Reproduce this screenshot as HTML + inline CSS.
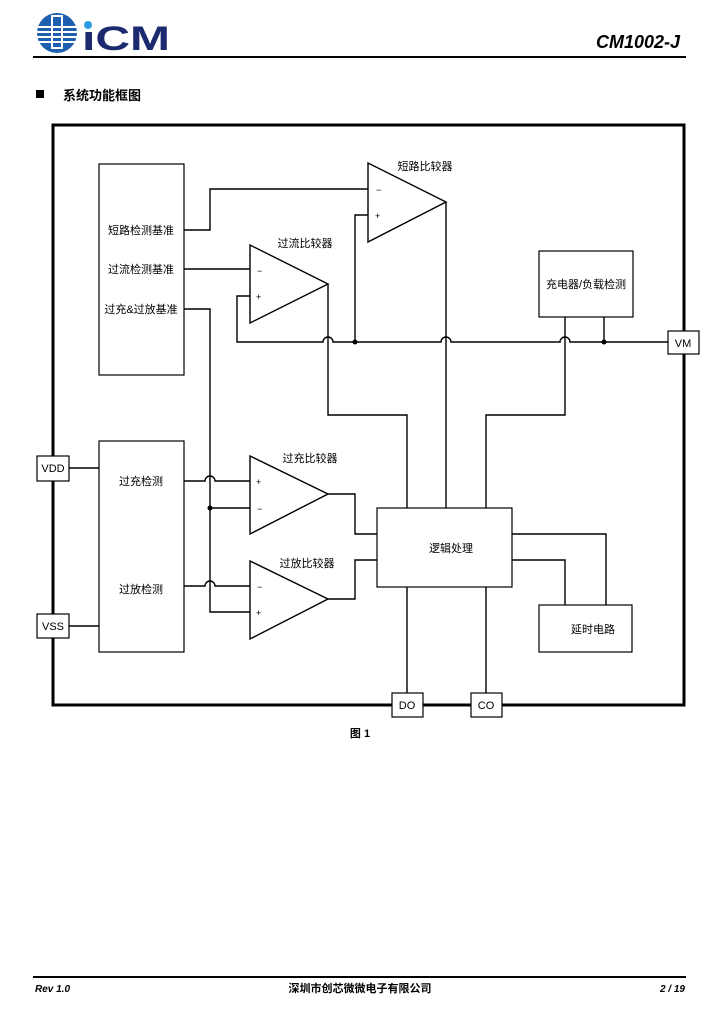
<!DOCTYPE html>
<html><head><meta charset="utf-8">
<style>
html,body{margin:0;padding:0;background:#fff;}
body{width:725px;height:1011px;position:relative;overflow:hidden;font-family:"Liberation Sans","Noto Sans CJK SC",sans-serif;}
svg{position:absolute;left:0;top:0;}
</style></head><body>
<svg width="725" height="1011" viewBox="0 0 725 1011" xmlns="http://www.w3.org/2000/svg" font-family="'Liberation Sans','Noto Sans CJK SC',sans-serif">
<!-- logo -->
<circle cx="57" cy="33" r="20" fill="#1f5fb0"/>
<g stroke="#fff" stroke-width="2">
<line x1="38" y1="27" x2="78" y2="27"/><line x1="37" y1="32" x2="78" y2="32"/><line x1="37" y1="37" x2="78" y2="37"/><line x1="39" y1="42" x2="76" y2="42"/>
</g>
<rect x="52" y="16" width="10" height="32" fill="none" stroke="#fff" stroke-width="2"/>
<circle cx="88" cy="25" r="4" fill="#2a9be0"/>
<text x="82" y="50" font-size="34" font-weight="bold" fill="#1b2a6e" textLength="88" lengthAdjust="spacingAndGlyphs">ıCM</text>
<text x="680" y="48" font-size="18" font-weight="bold" font-style="italic" text-anchor="end">CM1002-J</text>
<line x1="33" y1="57" x2="686" y2="57" stroke="#000" stroke-width="2"/>
<rect x="36" y="90" width="8" height="8" fill="#000"/>
<text x="63" y="100" font-size="13" font-weight="bold">系统功能框图</text>

<g fill="none" stroke="#000" stroke-width="1.4">
<rect x="53" y="125" width="631" height="580" stroke-width="3"/>
<rect x="99" y="164" width="85" height="211" stroke-width="1.2"/>
<rect x="99" y="441" width="85" height="211" stroke-width="1.2"/>
<rect x="539" y="251" width="94" height="66" stroke-width="1.2"/>
<rect x="377" y="508" width="135" height="79" stroke-width="1.2"/>
<rect x="539" y="605" width="93" height="47" stroke-width="1.2"/>
<polygon points="368,163 368,242 446,202"/>
<polygon points="250,245 250,323 328,284"/>
<polygon points="250,456 250,534 328,494"/>
<polygon points="250,561 250,639 328,599"/>
<path d="M184,230 H210 V189 H368"/>
<path d="M368,215 H355 V342"/>
<path d="M184,269 H250"/>
<path d="M250,296 H237 V342 H323 a5,5 0 0 1 10,0 H441 a5,5 0 0 1 10,0 H560 a5,5 0 0 1 10,0 H668"/>
<path d="M328,284 V415 H407 V508"/>
<path d="M446,202 V508"/>
<path d="M565,317 V415 H486 V508"/>
<path d="M604,317 V342"/>
<path d="M184,309 H210 V612 H250"/>
<path d="M210,508 H250"/>
<path d="M184,481 H205 a5,5 0 0 1 10,0 H250"/>
<path d="M184,586 H205 a5,5 0 0 1 10,0 H250"/>
<path d="M69,468 H99"/>
<path d="M69,626 H99"/>
<path d="M328,494 H355 V534 H377"/>
<path d="M328,599 H355 V560 H377"/>
<path d="M512,534 H606 V605"/>
<path d="M512,560 H565 V605"/>
<path d="M407,587 V693"/>
<path d="M486,587 V693"/>
</g>
<g fill="#fff" stroke="#000" stroke-width="1.2">
<rect x="668" y="331" width="31" height="23"/>
<rect x="37" y="456" width="32" height="25"/>
<rect x="37" y="614" width="32" height="24"/>
<rect x="392" y="693" width="31" height="24"/>
<rect x="471" y="693" width="31" height="24"/>
</g>
<g fill="#000">
<circle cx="355" cy="342" r="2.5"/><circle cx="604" cy="342" r="2.5"/><circle cx="210" cy="508" r="2.5"/>
</g>
<g font-size="9" fill="#000" stroke="none">
<text x="376" y="193">−</text><text x="375" y="219">+</text>
<text x="257" y="274">−</text><text x="256" y="300">+</text>
<text x="256" y="485">+</text><text x="257" y="512">−</text>
<text x="257" y="590">−</text><text x="256" y="616">+</text>
</g>
<g font-size="11" fill="#000" text-anchor="middle">
<text x="141" y="234">短路检测基准</text>
<text x="141" y="273">过流检测基准</text>
<text x="141" y="313">过充&amp;过放基准</text>
<text x="141" y="485">过充检测</text>
<text x="141" y="593">过放检测</text>
<text x="425" y="170">短路比较器</text>
<text x="305" y="247">过流比较器</text>
<text x="310" y="462">过充比较器</text>
<text x="307" y="567">过放比较器</text>
<text x="586" y="288">充电器/负载检测</text>
<text x="451" y="552">逻辑处理</text>
<text x="593" y="633">延时电路</text>
<text x="683" y="347">VM</text>
<text x="53" y="472">VDD</text>
<text x="53" y="630">VSS</text>
<text x="407" y="709">DO</text>
<text x="486" y="709">CO</text>
</g>
<text x="360" y="737" font-size="11" font-weight="bold" text-anchor="middle">图 1</text>
<line x1="33" y1="977" x2="686" y2="977" stroke="#000" stroke-width="2"/>
<text x="35" y="992" font-size="10" font-weight="bold" font-style="italic">Rev 1.0</text>
<text x="360" y="992" font-size="11" font-weight="bold" text-anchor="middle">深圳市创芯微微电子有限公司</text>
<text x="685" y="992" font-size="10" font-weight="bold" font-style="italic" text-anchor="end">2 / 19</text>
</svg>
</body></html>
